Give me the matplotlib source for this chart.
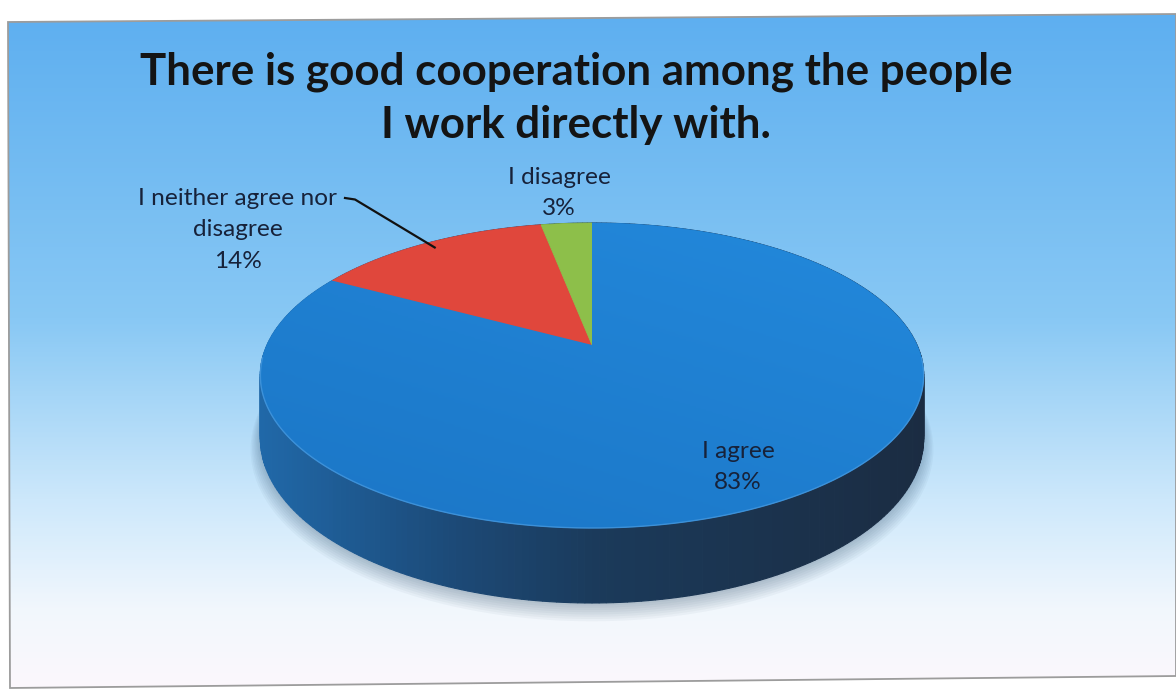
import numpy as np
import matplotlib
matplotlib.use("Agg")
import matplotlib.pyplot as plt
from matplotlib.patches import Polygon
from matplotlib.colors import LinearSegmentedColormap, to_rgb

# survey answers, drawn clockwise from 12 o'clock
categories = ["I agree", "I neither agree nor\ndisagree", "I disagree"]
shares = [83, 14, 3]
slice_colors = ["#1f7ecd", "#e0473c", "#8dbf4a"]
title = "There is good cooperation among the people\nI work directly with."

W, H = 1176, 692

# pie geometry in pixels (simple perspective tilt)
CX, CY = 592, 345
A, S, K = 325, 146.4, 0.2
DEPTH = 60


def proj(theta_deg, r=1.0, drop=0.0):
    t = np.radians(theta_deg)
    u = r * np.sin(t)
    v = r * np.cos(t)
    den = 1 + K * v
    return CX + A * u / den, CY - S * v / den + drop / den


fig = plt.figure(figsize=(W / 100, H / 100), dpi=100)
ax = fig.add_axes([0, 0, 1, 1])
ax.set_xlim(0, W)
ax.set_ylim(H, 0)
ax.axis("off")

# slide background with vertical gradient
slide = Polygon([(8, 22), (1176, 14), (1176, 676), (10, 688)], closed=True,
                facecolor="none", edgecolor="#9c9c9c", lw=1.3, zorder=1)
bg = LinearSegmentedColormap.from_list("bg", [
    (0.0, "#5eaff0"), (0.45, "#88c8f4"), (0.72, "#cde8fb"),
    (0.88, "#f1f7fd"), (1.0, "#fcf8fc")])
im = ax.imshow(np.linspace(0, 1, 400)[:, None], cmap=bg, aspect="auto",
               extent=[0, W, 690, 14], zorder=0)
ax.add_patch(slide)
im.set_clip_path(slide)

# soft shadow under the pie
ang = np.linspace(0, 360, 361)
for i in range(8):
    bx, by = proj(ang, r=1.0 + 0.004 * i, drop=DEPTH + 2 + i)
    ax.add_patch(Polygon(np.column_stack([bx, by]), closed=True,
                         facecolor="#0a2a4a", edgecolor="none",
                         alpha=0.035, zorder=2))

# side wall, shaded darker towards the right
side_stops = [(262, "#2068a8"), (450, "#1c4a78"), (600, "#1b3a5a"), (925, "#1b2c42")]
sx = [p[0] for p in side_stops]
sc = np.array([to_rgb(p[1]) for p in side_stops])
for a0 in np.arange(0, 360, 1.0):
    tx0, ty0 = proj(a0)
    tx1, ty1 = proj(a0 + 1)
    bx0, by0 = proj(a0, drop=DEPTH)
    bx1, by1 = proj(a0 + 1, drop=DEPTH)
    xm = (tx0 + tx1) / 2
    col = [np.interp(xm, sx, sc[:, c]) for c in range(3)]
    ax.add_patch(Polygon([(tx0, ty0), (tx1, ty1), (bx1, by1), (bx0, by0)],
                         closed=True, facecolor=col, edgecolor=col,
                         lw=0.8, zorder=3))

# top face wedges
start = 0.0
bounds = []
wedges = []
for share, col in zip(shares, slice_colors):
    end = start + 360.0 * share / sum(shares)
    arc = np.linspace(start, end, max(4, int(end - start) * 2))
    ax_, ay_ = proj(arc)
    pts = [(CX, CY)] + list(zip(ax_, ay_))
    w = Polygon(pts, closed=True, facecolor=col, edgecolor=col,
                lw=0.6, zorder=4)
    ax.add_patch(w)
    wedges.append(w)
    bounds.append((start, end))
    start = end

# gentle light fall-off across the large wedge
gx, gy = np.meshgrid(np.linspace(0, 1, 200), np.linspace(0, 1, 120))
shade = LinearSegmentedColormap.from_list("top", ["#2389dc", "#1b76c6"])
gim = ax.imshow(0.6 * gy + 0.4 * (1 - gx), cmap=shade, vmin=0, vmax=1,
                extent=[262, 925, 530, 220], aspect="auto", zorder=4.1)
gim.set_clip_path(wedges[0])

# light rim along the front edge
fx, fy = proj(np.linspace(95, 265, 200))
ax.plot(fx, fy, color="#4a9be0", lw=1.0, alpha=0.7, zorder=5)

ax.text(W / 2 - 12, 98, title, ha="center", va="center", fontsize=31.6,
        fontweight="bold", family="Lato", color="#141414", linespacing=1.4,
        zorder=6)

label_pos = [(738, 467), (238, 230), (559, 193)]
for cat, share, (lx, ly) in zip(categories, shares, label_pos):
    ax.text(lx, ly, f"{cat}\n{share}%", ha="center", va="center",
            fontsize=17.6, family="Lato", color="#17223a", linespacing=1.6,
            zorder=6)

# leader from the neutral label to its wedge
mid = sum(bounds[1]) / 2
ex, ey = proj(mid, r=0.95)
ax.plot([345, 355, ex], [198, 199.5, ey], color="#111111", lw=1.6, zorder=6)

fig.savefig("out.png", dpi=100)
